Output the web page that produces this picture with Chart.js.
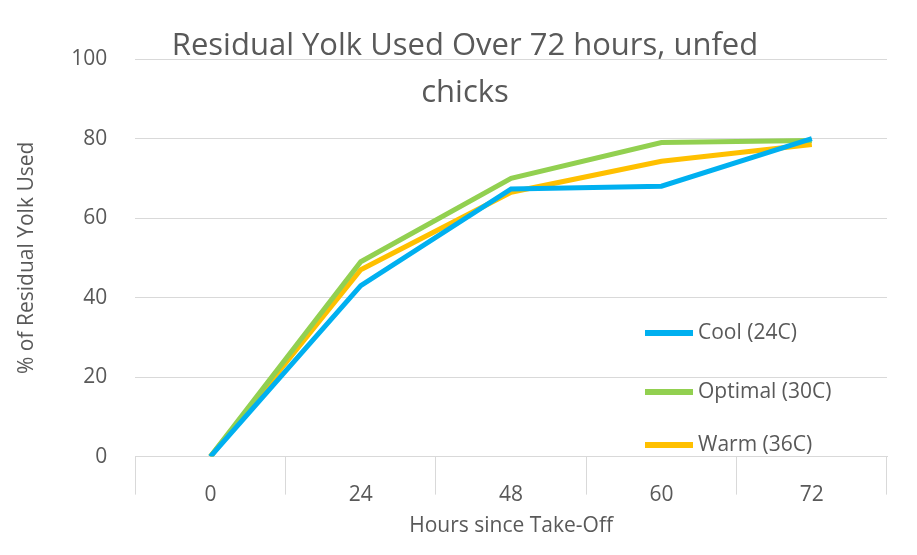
<!DOCTYPE html>
<html><head><meta charset="utf-8">
<script src="https://cdn.jsdelivr.net/npm/chart.js@4"></script>
<style>html,body{margin:0;padding:0;background:#fff}#w{width:917px;height:555px}</style>
</head><body><div id="w"><canvas id="c"></canvas></div>
<script>
const categories = ["0","24","48","60","72"];
const cool = [0, 43, 67.3, 68, 80];
const optimal = [0, 49, 70, 79, 79.5];
const warm = [0, 47, 66.5, 74.3, 78.5];
const seriesNames = ["Cool (24C)", "Optimal (30C)", "Warm (36C)"];
const yTicks = [0,20,40,60,80,100];
const titleLines = ["Residual Yolk Used Over 72 hours, unfed", "chicks"];
const colors = ["#00B0F0", "#92D050", "#FFC000"];
const FONT = "'Open Sans', 'Liberation Sans', sans-serif";
const grey = "#595959";

const overlay = {
  id: 'overlay',
  afterDraw(chart) {
    const ctx = chart.ctx;
    ctx.save();
    ctx.fillStyle = grey;
    ctx.font = "31px " + FONT;
    ctx.textAlign = "center"; ctx.textBaseline = "middle";
    ctx.fillText(titleLines[0], 465, 46);
    ctx.fillText(titleLines[1], 465, 93);
    ctx.font = "21px " + FONT;
    ctx.textAlign = "left";
    const ys = [333, 392, 445];
    chart.data.datasets.forEach((d, i) => {
      ctx.strokeStyle = d.borderColor; ctx.lineWidth = 6;
      ctx.beginPath(); ctx.moveTo(645, ys[i]); ctx.lineTo(693, ys[i]); ctx.stroke();
      ctx.fillText(d.label, 698, ys[i]);
    });
    ctx.restore();
  }
};

new Chart(document.getElementById('c'), {
  type: 'line',
  data: {
    labels: categories,
    datasets: [
      {label: seriesNames[0], data: cool, borderColor: colors[0]},
      {label: seriesNames[1], data: optimal, borderColor: colors[1]},
      {label: seriesNames[2], data: warm, borderColor: colors[2]}
    ].map(d => Object.assign(d, {borderWidth: 5, pointRadius: 0, tension: 0, fill: false}))
  },
  options: {
    responsive: true, maintainAspectRatio: false, animation: false,
    layout: {padding: {top: 59, right: 30, left: 10, bottom: 12}},
    plugins: {legend: {display: false}, title: {display: false}, tooltip: {enabled: false}},
    scales: {
      x: {
        offset: true,
        grid: {display: true, drawOnChartArea: false, offset: true, tickLength: 38, color: '#d9d9d9'},
        border: {color: '#d9d9d9'},
        ticks: {color: grey, font: {size: 21, family: FONT}, padding: -12},
        title: {display: true, text: 'Hours since Take-Off', color: grey, font: {size: 21, family: FONT}, padding: {top: 18}}
      },
      y: {
        min: 0, max: 100,
        afterBuildTicks: ax => { ax.ticks = yTicks.map(v => ({value: v})); },
        grid: {color: '#d9d9d9', drawTicks: false},
        border: {display: false},
        ticks: {color: grey, font: {size: 21, family: FONT}, padding: 28},
        title: {display: true, text: '% of Residual Yolk Used', color: grey, font: {size: 21, family: FONT}}
      }
    }
  },
  plugins: [overlay]
});
</script></body></html>
